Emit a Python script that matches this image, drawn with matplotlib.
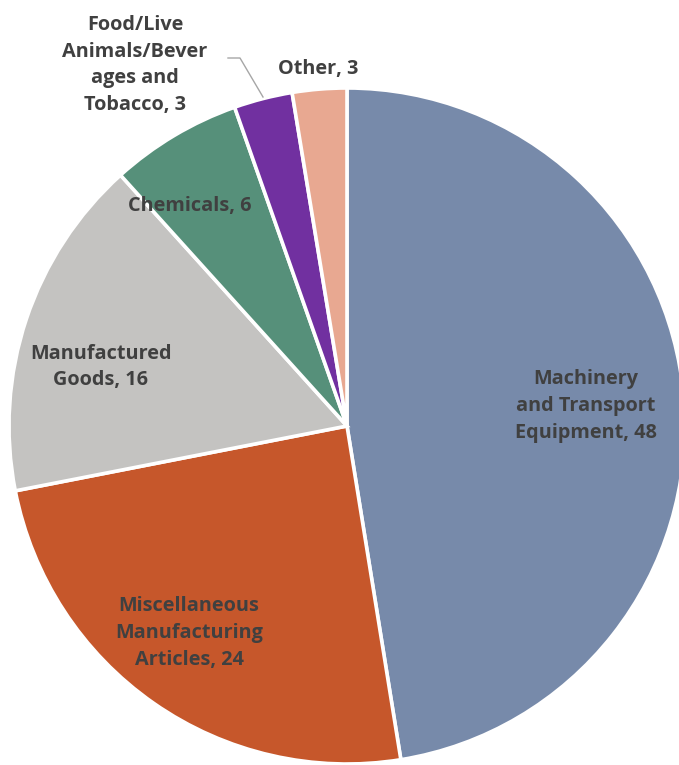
import matplotlib
matplotlib.use("Agg")
import matplotlib.pyplot as plt

categories = ["Machinery\nand Transport\nEquipment", "Miscellaneous\nManufacturing\nArticles",
              "Manufactured\nGoods", "Chemicals", "Food/Live\nAnimals/Bever\nages and\nTobacco", "Other"]
values = [47.5, 24.5, 16.4, 6.3, 2.8, 2.6]
shown = [48, 24, 16, 6, 3, 3]
colors = ["#778AAA", "#C6572B", "#C4C3C1", "#56907A", "#7130A0", "#E8A891"]

W, H = 679, 765
cx, cy, R = 347, 426, 338

fig = plt.figure(figsize=(W / 100, H / 100), dpi=100)
ax = fig.add_axes([(cx - R) / W, (H - cy - R) / H, 2 * R / W, 2 * R / H])

ax.pie(values, colors=colors, startangle=90, counterclock=False, radius=1,
       wedgeprops=dict(edgecolor="white", linewidth=2.6), frame=True)
ax.set_xlim(-1, 1)
ax.set_ylim(-1, 1)
ax.axis("off")

def d(px, py):
    return ((px - cx) / R, (cy - py) / R)

label_px = [(586, 406), (189, 633), (101, 367), (190, 206), (135, 65), (318, 69)]
for cat, v, (px, py) in zip(categories, shown, label_px):
    x, y = d(px, py)
    ax.text(x, y, f"{cat}, {v}", ha="center", va="center", fontsize=14.3,
            fontweight="bold", family=["Open Sans", "DejaVu Sans"], color="#404040",
            linespacing=1.44, clip_on=False)

pts = [d(228, 58), d(240, 58), d(263, 97)]
ax.plot([p[0] for p in pts], [p[1] for p in pts], color="#A6A6A6", lw=1, clip_on=False)

fig.savefig("out.png", dpi=100)
